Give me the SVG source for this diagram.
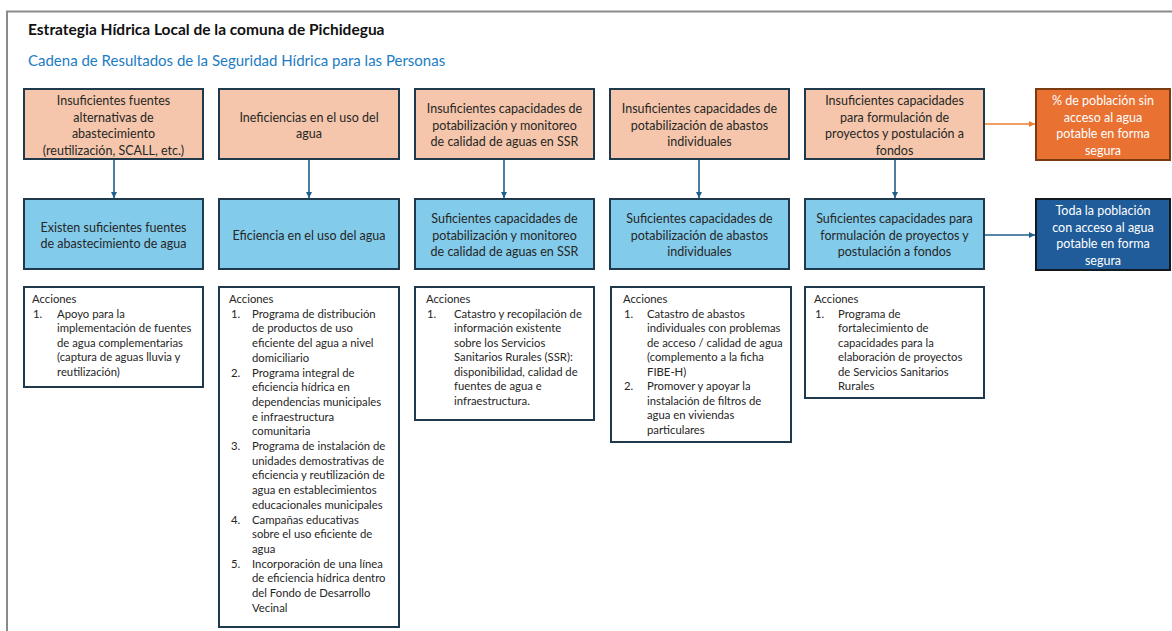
<svg xmlns="http://www.w3.org/2000/svg" width="1172" height="631" viewBox="0 0 1172 631">
<defs>
<marker id="ab" viewBox="0 0 10 10" refX="10" refY="5" markerWidth="4" markerHeight="4" orient="auto" markerUnits="strokeWidth"><path d="M0,0 L10,5 L0,10 z" fill="#1F5F8B"/></marker>
<marker id="ao" viewBox="0 0 10 10" refX="10" refY="5" markerWidth="4" markerHeight="4" orient="auto" markerUnits="strokeWidth"><path d="M0,0 L10,5 L0,10 z" fill="#ED7D31"/></marker>
</defs>
<style>
.t{font-family:Lato,"Liberation Sans",sans-serif;font-size:12.5px;fill:#262626;text-anchor:middle}
.w{font-family:Lato,"Liberation Sans",sans-serif;font-size:12.5px;fill:#ffffff;text-anchor:middle}
.a{font-family:Lato,"Liberation Sans",sans-serif;font-size:11.3px;fill:#262626}
.p{fill:#F5C6AB;stroke:#1E3A4C;stroke-width:2}
.b{fill:#83CBEB;stroke:#1E3A4C;stroke-width:2}
.x{fill:#ffffff;stroke:#1E3A4C;stroke-width:2}
.c{stroke:#1F5F8B;stroke-width:1.6;fill:none;marker-end:url(#ab)}
.co{stroke:#ED7D31;stroke-width:1.6;fill:none;marker-end:url(#ao)}
</style>
<rect x="0" y="0" width="1172" height="631" fill="#ffffff"/>
<path d="M7,640 L7,11.5 L1180,11.5" fill="none" stroke="#8A8A8A" stroke-width="2"/>
<text x="28" y="35" font-family="Lato,'Liberation Sans',sans-serif" font-size="15.5" font-weight="bold" fill="#111">Estrategia Hídrica Local de la comuna de Pichidegua</text>
<text x="28" y="66" font-family="Lato,'Liberation Sans',sans-serif" font-size="15" fill="#1C7CC4">Cadena de Resultados de la Seguridad Hídrica para las Personas</text>

<g id="connectors">
<line class="c" x1="114" y1="160" x2="114" y2="198"/>
<line class="c" x1="309" y1="160" x2="309" y2="198"/>
<line class="c" x1="504" y1="160" x2="504" y2="198"/>
<line class="c" x1="699" y1="160" x2="699" y2="198"/>
<line class="c" x1="895" y1="160" x2="895" y2="198"/>
<line class="co" x1="985" y1="124" x2="1035" y2="124"/>
<line class="c" x1="985" y1="235" x2="1035" y2="235"/>
</g>

<g id="p1"><rect class="p" x="24" y="89" width="179" height="70"/>
<text class="t" x="113.5" y="105">Insuficientes fuentes</text>
<text class="t" x="113.5" y="121.5">alternativas de</text>
<text class="t" x="113.5" y="138">abastecimiento</text>
<text class="t" x="113.5" y="154.5">(reutilización, SCALL, etc.)</text></g>

<g id="p2"><rect class="p" x="219" y="89" width="180" height="70"/>
<text class="t" x="309" y="121.5">Ineficiencias en el uso del</text>
<text class="t" x="309" y="138">agua</text></g>

<g id="p3"><rect class="p" x="415" y="89" width="179" height="70"/>
<text class="t" x="504.5" y="113">Insuficientes capacidades de</text>
<text class="t" x="504.5" y="129.5">potabilización y monitoreo</text>
<text class="t" x="504.5" y="146">de calidad de aguas en SSR</text></g>

<g id="p4"><rect class="p" x="610" y="89" width="179" height="70"/>
<text class="t" x="699.5" y="113">Insuficientes capacidades de</text>
<text class="t" x="699.5" y="129.5">potabilización de abastos</text>
<text class="t" x="699.5" y="146">individuales</text></g>

<g id="p5"><rect class="p" x="805" y="89" width="179" height="70"/>
<text class="t" x="894.5" y="105">Insuficientes capacidades</text>
<text class="t" x="894.5" y="121.5">para formulación de</text>
<text class="t" x="894.5" y="138">proyectos y postulación a</text>
<text class="t" x="894.5" y="154.5">fondos</text></g>

<g id="impact"><rect x="1036" y="89" width="134" height="71" fill="#E97132" stroke="#7A3A12" stroke-width="2"/>
<text class="w" x="1103" y="105">% de población sin</text>
<text class="w" x="1103" y="121.5">acceso al agua</text>
<text class="w" x="1103" y="138">potable en forma</text>
<text class="w" x="1103" y="154.5">segura</text></g>

<g id="r1"><rect class="b" x="24" y="199" width="179" height="70"/>
<text class="t" x="113.5" y="231.5">Existen suficientes fuentes</text>
<text class="t" x="113.5" y="248">de abastecimiento de agua</text></g>

<g id="r2"><rect class="b" x="219" y="199" width="180" height="70"/>
<text class="t" x="309" y="239.5">Eficiencia en el uso del agua</text></g>

<g id="r3"><rect class="b" x="415" y="199" width="179" height="70"/>
<text class="t" x="504.5" y="223">Suficientes capacidades de</text>
<text class="t" x="504.5" y="239.5">potabilización y monitoreo</text>
<text class="t" x="504.5" y="256">de calidad de aguas en SSR</text></g>

<g id="r4"><rect class="b" x="610" y="199" width="179" height="70"/>
<text class="t" x="699.5" y="223">Suficientes capacidades de</text>
<text class="t" x="699.5" y="239.5">potabilización de abastos</text>
<text class="t" x="699.5" y="256">individuales</text></g>

<g id="r5"><rect class="b" x="805" y="199" width="179" height="70"/>
<text class="t" x="894.5" y="223">Suficientes capacidades para</text>
<text class="t" x="894.5" y="239.5">formulación de proyectos y</text>
<text class="t" x="894.5" y="256">postulación a fondos</text></g>

<g id="goal"><rect x="1036" y="199" width="134" height="71" fill="#1F5C99" stroke="#111820" stroke-width="2"/>
<text class="w" x="1103" y="215">Toda la población</text>
<text class="w" x="1103" y="231.5">con acceso al agua</text>
<text class="w" x="1103" y="248">potable en forma</text>
<text class="w" x="1103" y="264.5">segura</text></g>

<g id="a1"><rect class="x" x="24" y="287" width="179" height="100"/>
<text class="a" x="32" y="303">Acciones</text>
<text class="a" x="33" y="317.5">1.</text>
<text class="a" x="57" y="317.5">Apoyo para la</text>
<text class="a" x="57" y="332">implementación de fuentes</text>
<text class="a" x="57" y="346.5">de agua complementarias</text>
<text class="a" x="57" y="361">(captura de aguas lluvia y</text>
<text class="a" x="57" y="375.5">reutilización)</text></g>

<g id="a2"><rect class="x" x="219" y="287" width="180" height="340"/>
<text class="a" x="229" y="303">Acciones</text>
<text class="a" x="231" y="317.7">1.</text>
<text class="a" x="252" y="317.7">Programa de distribución</text>
<text class="a" x="252" y="332.4">de productos de uso</text>
<text class="a" x="252" y="347.1">eficiente del agua a nivel</text>
<text class="a" x="252" y="361.8">domiciliario</text>
<text class="a" x="231" y="376.5">2.</text>
<text class="a" x="252" y="376.5">Programa integral de</text>
<text class="a" x="252" y="391.2">eficiencia hídrica en</text>
<text class="a" x="252" y="405.9">dependencias municipales</text>
<text class="a" x="252" y="420.6">e infraestructura</text>
<text class="a" x="252" y="435.3">comunitaria</text>
<text class="a" x="231" y="450">3.</text>
<text class="a" x="252" y="450">Programa de instalación de</text>
<text class="a" x="252" y="464.7">unidades demostrativas de</text>
<text class="a" x="252" y="479.4">eficiencia y reutilización de</text>
<text class="a" x="252" y="494.1">agua en establecimientos</text>
<text class="a" x="252" y="508.8">educacionales municipales</text>
<text class="a" x="231" y="523.5">4.</text>
<text class="a" x="252" y="523.5">Campañas educativas</text>
<text class="a" x="252" y="538.2">sobre el uso eficiente de</text>
<text class="a" x="252" y="552.9">agua</text>
<text class="a" x="231" y="567.6">5.</text>
<text class="a" x="252" y="567.6">Incorporación de una línea</text>
<text class="a" x="252" y="582.3">de eficiencia hídrica dentro</text>
<text class="a" x="252" y="597">del Fondo de Desarrollo</text>
<text class="a" x="252" y="611.7">Vecinal</text></g>

<g id="a3"><rect class="x" x="415" y="287" width="179" height="133"/>
<text class="a" x="426" y="303">Acciones</text>
<text class="a" x="427" y="317.5">1.</text>
<text class="a" x="454" y="317.5">Catastro y recopilación de</text>
<text class="a" x="454" y="332">información existente</text>
<text class="a" x="454" y="346.5">sobre los Servicios</text>
<text class="a" x="454" y="361">Sanitarios Rurales (SSR):</text>
<text class="a" x="454" y="375.5">disponibilidad, calidad de</text>
<text class="a" x="454" y="390">fuentes de agua e</text>
<text class="a" x="454" y="404.5">infraestructura.</text></g>

<g id="a4"><rect class="x" x="611" y="287" width="180" height="155"/>
<text class="a" x="623" y="303">Acciones</text>
<text class="a" x="624" y="317.5">1.</text>
<text class="a" x="647" y="317.5">Catastro de abastos</text>
<text class="a" x="647" y="332">individuales con problemas</text>
<text class="a" x="647" y="346.5">de acceso / calidad de agua</text>
<text class="a" x="647" y="361">(complemento a la ficha</text>
<text class="a" x="647" y="375.5">FIBE-H)</text>
<text class="a" x="624" y="390">2.</text>
<text class="a" x="647" y="390">Promover y apoyar la</text>
<text class="a" x="647" y="404.5">instalación de filtros de</text>
<text class="a" x="647" y="419">agua en viviendas</text>
<text class="a" x="647" y="433.5">particulares</text></g>

<g id="a5"><rect class="x" x="805" y="287" width="179" height="111"/>
<text class="a" x="814" y="303">Acciones</text>
<text class="a" x="815" y="317.5">1.</text>
<text class="a" x="838" y="317.5">Programa de</text>
<text class="a" x="838" y="332">fortalecimiento de</text>
<text class="a" x="838" y="346.5">capacidades para la</text>
<text class="a" x="838" y="361">elaboración de proyectos</text>
<text class="a" x="838" y="375.5">de Servicios Sanitarios</text>
<text class="a" x="838" y="390">Rurales</text></g>
</svg>
